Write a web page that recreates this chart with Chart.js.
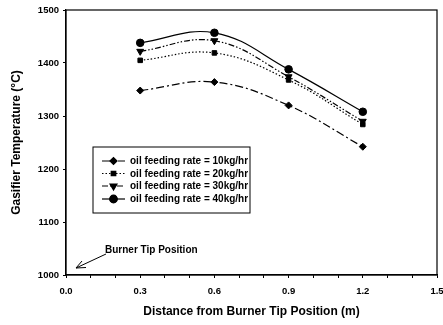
<!DOCTYPE html>
<html>
<head>
<meta charset="utf-8">
<script src="https://cdn.jsdelivr.net/npm/chart.js@4"></script>
<style>
  html, body { margin: 0; padding: 0; background: #fff; }
  #wrap { width: 443px; height: 325px; }
</style>
</head>
<body>
<div id="wrap"><canvas id="chartTemp"></canvas></div>
<script>
// ── Gasifier temperature vs distance ────────────────────────

const distances = [0.3, 0.6, 0.9, 1.2];
const rate10 = [1348, 1364, 1320, 1242];
const rate20 = [1405, 1419, 1368, 1284];
const rate30 = [1422, 1442, 1374, 1290];
const rate40 = [1438, 1457, 1388, 1308];
const seriesNames = [
  "oil feeding rate = 10kg/hr",
  "oil feeding rate = 20kg/hr",
  "oil feeding rate = 30kg/hr",
  "oil feeding rate = 40kg/hr",
];
const xMajorTicks = [0.0, 0.3, 0.6, 0.9, 1.2, 1.5];

const FONT = "'Liberation Sans', Arial, sans-serif";

const styles = [
  { dash: [8, 3, 2, 3], point: "rectRot", radius: 3.5, rotation: 0 },
  { dash: [1.5, 2], point: "rect", radius: 3.2, rotation: 0 },
  { dash: [6, 2, 1.5, 2, 1.5, 2], point: "triangle", radius: 4, rotation: 180 },
  { dash: [], point: "circle", radius: 3.8, rotation: 0 },
];

const allValues = [rate10, rate20, rate30, rate40];

const datasets = allValues.map((vals, i) => ({
  label: seriesNames[i],
  data: distances.map((d, j) => ({ x: d, y: vals[j] })),
  borderColor: "#000",
  backgroundColor: "#000",
  borderWidth: 1.2,
  borderDash: styles[i].dash,
  pointStyle: styles[i].point,
  pointRadius: styles[i].radius,
  pointRotation: styles[i].rotation,
  pointBorderWidth: 1,
  tension: 0.4,
}));

// frame, legend box, annotation
const extras = {
  id: "extras",
  afterDraw(chart) {
    const ctx = chart.ctx;
    const a = chart.chartArea;
    ctx.save();
    ctx.strokeStyle = "#000";
    ctx.lineWidth = 1.2;
    ctx.setLineDash([]);
    ctx.strokeRect(a.left, a.top, a.right - a.left, a.bottom - a.top);

    // legend
    const bx = 93, by = 147, bw = 157, bh = 66;
    ctx.lineWidth = 1;
    ctx.strokeRect(bx, by, bw, bh);
    const rows = [161, 173.5, 186, 199];
    ctx.font = "bold 10px " + FONT;
    ctx.textBaseline = "middle";
    ctx.fillStyle = "#000";
    rows.forEach((ry, i) => {
      const s = styles[i];
      ctx.beginPath();
      ctx.setLineDash(s.dash);
      ctx.lineWidth = 1.2;
      ctx.moveTo(102, ry);
      ctx.lineTo(125, ry);
      ctx.stroke();
      ctx.setLineDash([]);
      Chart.helpers.drawPoint(ctx, {
        pointStyle: s.point,
        radius: s.radius,
        rotation: s.rotation,
        borderWidth: 1,
      }, 113.5, ry);
      ctx.fill();
      ctx.fillText(seriesNames[i], 130, ry + 0.5);
    });

    // annotation
    ctx.font = "bold 10px " + FONT;
    ctx.fillText("Burner Tip Position", 105, 250);
    ctx.lineWidth = 1;
    ctx.beginPath();
    ctx.moveTo(106, 254);
    ctx.lineTo(76, 268);
    ctx.moveTo(76, 268);
    ctx.lineTo(86, 267.5);
    ctx.moveTo(76, 268);
    ctx.lineTo(82, 261);
    ctx.stroke();
    ctx.restore();
  },
};

new Chart(document.getElementById("chartTemp"), {
  type: "line",
  data: { datasets },
  plugins: [extras],
  options: {
    responsive: true,
    maintainAspectRatio: false,
    animation: false,
    layout: { padding: { left: 4, right: 0, top: 10, bottom: 4 } },
    plugins: {
      legend: { display: false },
      tooltip: { enabled: false },
    },
    scales: {
      x: {
        type: "linear",
        min: 0,
        max: 1.5,
        afterFit: (scale) => {
          scale.height = 46;
          scale.paddingLeft = 0;
          scale.paddingRight = 6;
        },
        border: { color: "#000", width: 1.2 },
        grid: {
          drawOnChartArea: false,
          drawTicks: true,
          tickLength: 3,
          color: "#000",
        },
        ticks: {
          stepSize: 0.1,
          autoSkip: false,
          maxRotation: 0,
          padding: 8,
          color: "#000",
          font: { family: FONT, size: 9.5, weight: "bold" },
          callback: (v) => {
            const hit = xMajorTicks.find((t) => Math.abs(t - v) < 1e-6);
            return hit === undefined ? "" : hit.toFixed(1);
          },
        },
        title: {
          display: true,
          text: "Distance from Burner Tip Position (m)",
          color: "#000",
          font: { family: FONT, size: 12, weight: "bold" },
          padding: { top: 8, bottom: 2 },
        },
      },
      y: {
        min: 1000,
        max: 1500,
        afterFit: (scale) => { scale.width = 62; },
        border: { color: "#000", width: 1.2 },
        grid: {
          drawOnChartArea: false,
          drawTicks: true,
          tickLength: 3,
          color: "#000",
        },
        ticks: {
          stepSize: 100,
          padding: 4,
          color: "#000",
          font: { family: FONT, size: 9.5, weight: "bold" },
          callback: (v) => String(v),
        },
        title: {
          display: true,
          text: "Gasifier Temperature (°C)",
          color: "#000",
          font: { family: FONT, size: 12, weight: "bold" },
          padding: { top: 5, bottom: 4 },
        },
      },
    },
  },
});
</script>
</body>
</html>
